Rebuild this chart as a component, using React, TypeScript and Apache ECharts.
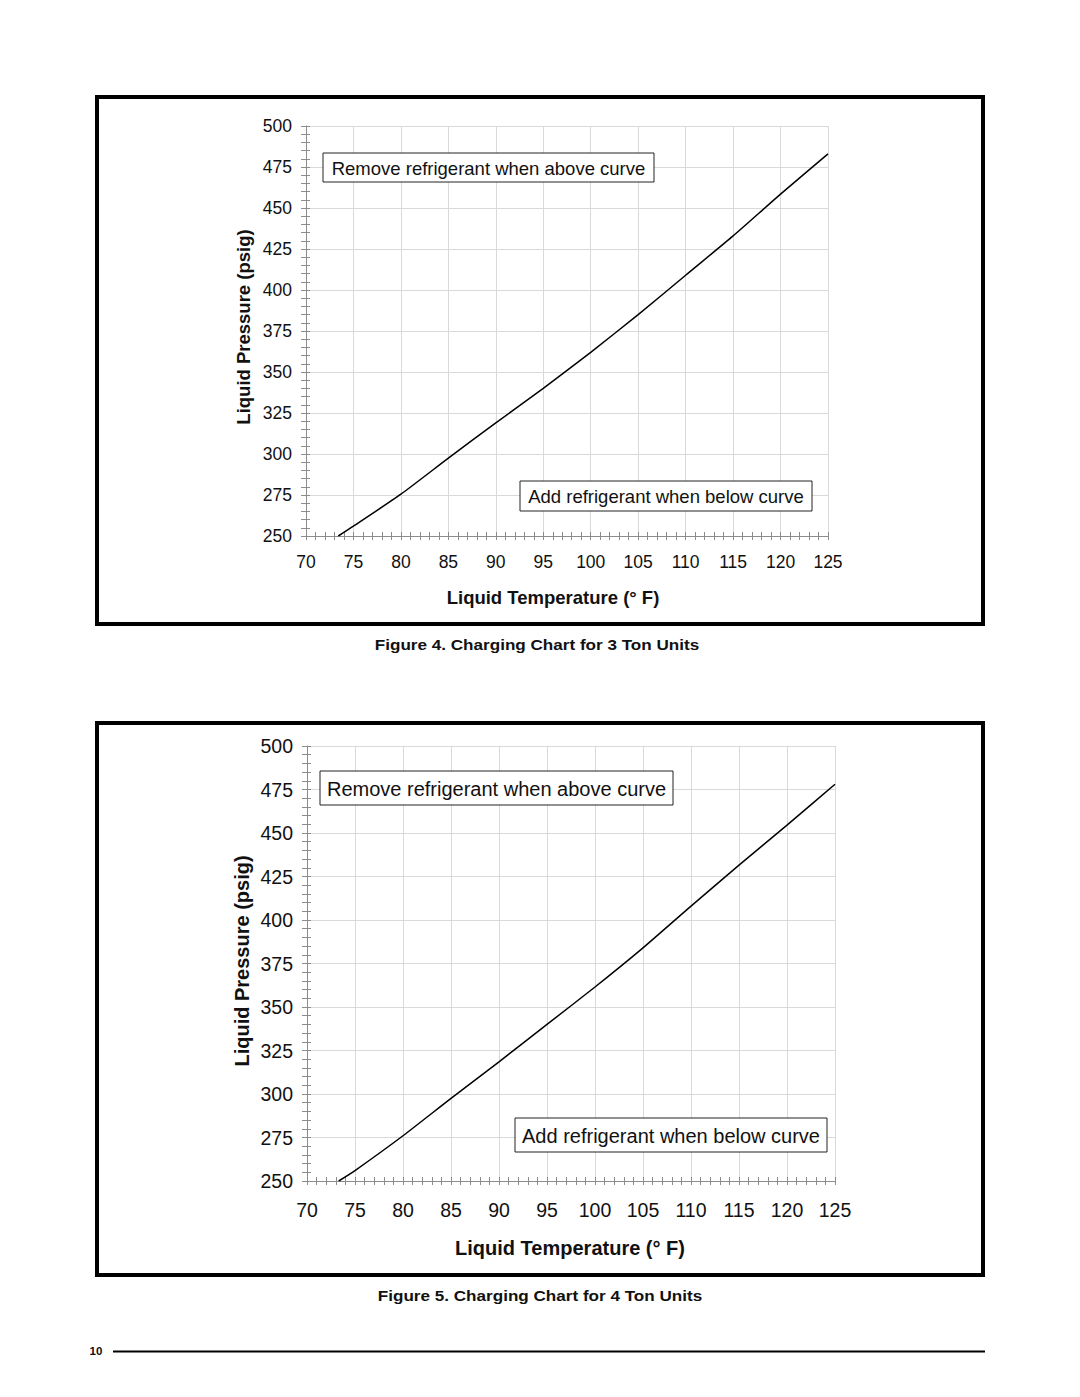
import React, { useEffect, useRef } from "react";
import * as echarts from "echarts";

// ---- Data ----
const xMin = 70;
const xMax = 125;
const xStep = 5;
const yMin = 250;
const yMax = 500;
const yStep = 25;

// Figure 4: 3 Ton units
const temps3 = [73.4, 75, 80, 85, 90, 95, 100, 105, 110, 115, 120, 125];
const pressure3 = [250, 256, 275.5, 297.5, 319, 340, 362, 385, 409, 433, 458.5, 483];

// Figure 5: 4 Ton units
const temps4 = [73.3, 75, 80, 85, 90, 95, 100, 105, 110, 115, 120, 125];
const pressure4 = [250, 256, 276, 297.5, 318.5, 340, 361.5, 384, 408, 431.5, 454.5, 478];

const xTitle = "Liquid Temperature (° F)";
const yTitle = "Liquid Pressure (psig)";
const noteAbove = "Remove refrigerant when above curve";
const noteBelow = "Add refrigerant when below curve";
const caption3 = "Figure 4. Charging Chart for 3 Ton Units";
const caption4 = "Figure 5. Charging Chart for 4 Ton Units";
const pageNumber = "10";

const FONT = '"Liberation Sans", Arial, Helvetica, sans-serif';
const AXIS_GRAY = "#8c8c8c";
const GRID_GRAY = "#d9d9d9";

function axesFor(gridIndex: number, fontSize: number, xMargin: number, yMargin: number) {
  const tickStyle = { color: AXIS_GRAY, width: 1 };
  const xMain = {
    type: "value",
    gridIndex,
    position: "bottom",
    min: xMin,
    max: xMax,
    interval: xStep,
    axisLine: { show: true, lineStyle: { color: AXIS_GRAY, width: 1 } },
    axisTick: { show: true, length: 4, lineStyle: tickStyle },
    minorTick: { show: true, splitNumber: 5, length: 4, lineStyle: tickStyle },
    splitLine: { show: true, lineStyle: { color: GRID_GRAY, width: 1 } },
    minorSplitLine: { show: false },
    axisLabel: { show: true, fontSize, color: "#111", fontFamily: FONT, margin: xMargin },
  };
  const xInner = {
    type: "value",
    gridIndex,
    position: "bottom",
    min: xMin,
    max: xMax,
    interval: xStep,
    axisLine: { show: false },
    axisTick: { show: true, inside: true, length: 4, lineStyle: tickStyle },
    minorTick: { show: true, splitNumber: 5, length: 4, lineStyle: tickStyle },
    splitLine: { show: false },
    axisLabel: { show: false },
  };
  const yMain = {
    type: "value",
    gridIndex,
    position: "left",
    min: yMin,
    max: yMax,
    interval: yStep,
    axisLine: { show: true, lineStyle: { color: AXIS_GRAY, width: 1 } },
    axisTick: { show: true, length: 5, lineStyle: tickStyle },
    minorTick: { show: true, splitNumber: 5, length: 5, lineStyle: tickStyle },
    splitLine: { show: true, lineStyle: { color: GRID_GRAY, width: 1 } },
    minorSplitLine: { show: false },
    axisLabel: { show: true, fontSize, color: "#111", fontFamily: FONT, margin: yMargin },
  };
  const yInner = {
    type: "value",
    gridIndex,
    position: "left",
    offset: 0,
    min: yMin,
    max: yMax,
    interval: yStep,
    axisLine: { show: false },
    axisTick: { show: true, inside: true, length: 4, lineStyle: tickStyle },
    minorTick: { show: true, splitNumber: 5, length: 4, lineStyle: tickStyle },
    splitLine: { show: false },
    axisLabel: { show: false },
  };
  return { x: [xMain, xInner], y: [yMain, yInner] };
}

function noteBox(x: number, y: number, w: number, h: number, text: string, fontSize: number) {
  return {
    type: "group",
    z: 100,
    children: [
      {
        type: "rect",
        z: 100,
        shape: { x, y, width: w, height: h },
        style: { fill: "#fff", stroke: "#222", lineWidth: 1 },
      },
      {
        type: "text",
        z: 101,
        x: x + w / 2,
        y: y + h / 2 + 0.5,
        style: {
          text,
          fill: "#111",
          fontSize,
          fontFamily: FONT,
          textAlign: "center",
          textVerticalAlign: "middle",
        },
      },
    ],
  };
}

function textAt(
  x: number,
  y: number,
  text: string,
  fontSize: number,
  bold: boolean,
  rotation = 0,
  scaleX = 1
) {
  return {
    type: "text",
    z: 100,
    x,
    y,
    rotation,
    scaleX,
    style: {
      text,
      fill: "#111",
      fontSize,
      fontWeight: bold ? "bold" : "normal",
      fontFamily: FONT,
      textAlign: "center",
      textVerticalAlign: "middle",
    },
  };
}

export default function App() {
  const ref = useRef<HTMLDivElement>(null);

  useEffect(() => {
    if (!ref.current) return;
    const chart = echarts.init(ref.current, undefined, { renderer: "svg" });

    const a1 = axesFor(0, 17.5, 17, 14);
    const a2 = axesFor(1, 19.5, 19, 14);

    const lineSeries = (xi: number, yi: number, name: string, xs: number[], ys: number[]) => ({
      name,
      type: "line",
      xAxisIndex: xi,
      yAxisIndex: yi,
      showSymbol: false,
      smooth: 0.2,
      lineStyle: { color: "#000", width: 1.5 },
      data: xs.map((t, i) => [t, ys[i]]),
      z: 5,
    });

    const option = {
      animation: false,
      backgroundColor: "#ffffff",
      grid: [
        { left: 306, top: 126, width: 522, height: 410, containLabel: false },
        { left: 307, top: 746, width: 528, height: 435, containLabel: false },
      ],
      xAxis: [...a1.x, ...a2.x],
      yAxis: [...a1.y, ...a2.y],
      series: [
        lineSeries(0, 0, "3 Ton", temps3, pressure3),
        lineSeries(2, 2, "4 Ton", temps4, pressure4),
      ],
      graphic: [
        // frames
        {
          type: "rect",
          z: 100,
          shape: { x: 97, y: 97, width: 886, height: 527 },
          style: { fill: "none", stroke: "#000", lineWidth: 4 },
        },
        {
          type: "rect",
          z: 100,
          shape: { x: 97, y: 723, width: 886, height: 552 },
          style: { fill: "none", stroke: "#000", lineWidth: 4 },
        },
        // chart 1 annotations and titles
        noteBox(323, 153, 331, 29, noteAbove, 18.5),
        noteBox(520, 481, 292, 30, noteBelow, 18.5),
        textAt(553, 597, xTitle, 18.5, true),
        textAt(243, 327, yTitle, 18.5, true, Math.PI / 2),
        textAt(537, 644, caption3, 15, true, 0, 1.14),
        // chart 2 annotations and titles
        noteBox(320, 771, 353, 34, noteAbove, 20),
        noteBox(515, 1118, 312, 34, noteBelow, 20),
        textAt(570, 1248, xTitle, 20, true),
        textAt(242, 961, yTitle, 20, true, Math.PI / 2),
        textAt(540, 1295, caption4, 15, true, 0, 1.14),
        // footer
        textAt(96, 1351, pageNumber, 11.5, true),
        {
          type: "line",
          z: 100,
          shape: { x1: 113, y1: 1351.5, x2: 985, y2: 1351.5 },
          style: { stroke: "#000", lineWidth: 2 },
        },
      ],
    };

    chart.setOption(option as any);
    return () => {
      chart.dispose();
    };
  }, []);

  return (
    <div
      ref={ref}
      style={{ position: "absolute", left: 0, top: 0, width: 1080, height: 1397, background: "#fff" }}
    />
  );
}
